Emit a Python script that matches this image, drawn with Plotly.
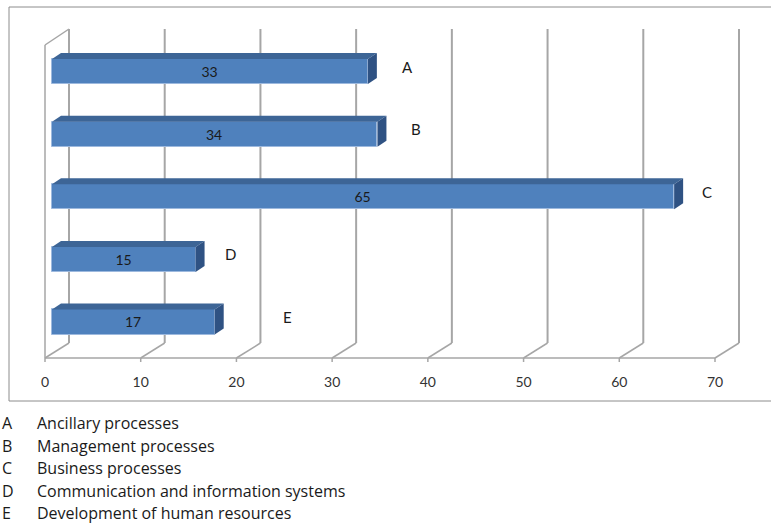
import plotly.graph_objects as go

# --- data -------------------------------------------------------------
codes = ["A", "B", "C", "D", "E"]
descriptions = [
    "Ancillary processes",
    "Management processes",
    "Business processes",
    "Communication and information systems",
    "Development of human resources",
]
values = [33, 34, 65, 15, 17]
x_ticks = [0, 10, 20, 30, 40, 50, 60, 70]

# --- geometry (pixels) ------------------------------------------------
W, H = 771, 525
PLOT_H = 366                 # bottom of the plotting area
FLOOR_PX = 358               # front edge of the floor
X0_PX = 45                   # pixel of value 0 on the front edge
PX_PER_UNIT = 670 / 70
ROW_PX = 62.6                # pixels between category rows
FIRST_ROW_PX = 322           # centre of the lowest bar face
DEPTH = (24, 15)             # oblique offset of the back wall
BAR_FRONT = 7                # bar face sits this far into the depth
BAR_DEPTH = (9, 6)           # visible depth of each bar
BAR_WIDTH = 0.4
BACK_TOP_PX = 29
WALL_TOP_PX = 45

Y_LOW = -(PLOT_H - FIRST_ROW_PX) / ROW_PX
Y_HIGH = Y_LOW + PLOT_H / ROW_PX
X_LOW = -X0_PX / PX_PER_UNIT
X_HIGH = X_LOW + W / PX_PER_UNIT


def ux(px):
    return px / PX_PER_UNIT


def uy(px):
    return px / ROW_PX


def row_y(py):
    return Y_LOW + (PLOT_H - py) / ROW_PX


def paper_x(px):
    return px / W


def paper_y(py):
    return (PLOT_H - py) / PLOT_H


FRONT = "#4F81BD"
TOP = "#3D6596"
SIDE = "#2F5283"
GRID = "#A6A6A6"
TEXT = "#1A1A1A"
FONT = "Lato"

ypos = [len(values) - 1 - i for i in range(len(values))]
base = ux(BAR_FRONT)

fig = go.Figure()
fig.add_trace(go.Bar(
    x=values, y=ypos, base=base, orientation="h", width=BAR_WIDTH,
    marker=dict(color=FRONT, line=dict(color="#9DB9DE", width=1)),
    text=[str(v) for v in values], textposition="inside",
    insidetextanchor="middle", constraintext="none",
    textfont=dict(family=FONT, size=14, color=TEXT),
    hoverinfo="skip", showlegend=False,
))

shapes = []
floor_y = row_y(FLOOR_PX)
back_floor_y = floor_y + uy(DEPTH[1])
back_top_y = row_y(BACK_TOP_PX)
wall_top_y = row_y(WALL_TOP_PX)
line_grid = dict(color=GRID, width=2)
line_floor = dict(color=GRID, width=1.5)

# back wall gridlines and floor depth lines
for t in x_ticks:
    shapes.append(dict(type="line", xref="x", yref="y", layer="below",
                       x0=t + ux(DEPTH[0]), x1=t + ux(DEPTH[0]),
                       y0=back_floor_y, y1=back_top_y, line=line_grid))
    shapes.append(dict(type="line", xref="x", yref="y", layer="below",
                       x0=t, x1=t + ux(DEPTH[0]),
                       y0=floor_y, y1=back_floor_y, line=line_floor))
    shapes.append(dict(type="line", xref="x", yref="y", layer="below",
                       x0=t, x1=t, y0=floor_y, y1=floor_y - uy(4),
                       line=line_floor))

# front floor edge and left wall
shapes.append(dict(type="line", xref="x", yref="y", layer="below",
                   x0=x_ticks[0], x1=x_ticks[-1], y0=floor_y, y1=floor_y,
                   line=line_floor))
shapes.append(dict(type="line", xref="x", yref="y", layer="below",
                   x0=0, x1=0, y0=floor_y, y1=wall_top_y, line=line_floor))
shapes.append(dict(type="line", xref="x", yref="y", layer="below",
                   x0=0, x1=ux(DEPTH[0]), y0=wall_top_y, y1=back_top_y,
                   line=line_floor))

# top and end faces of each bar
ddx, ddy = ux(BAR_DEPTH[0]), uy(BAR_DEPTH[1])
h = BAR_WIDTH / 2
for v, y in zip(values, ypos):
    x1 = base + v
    top = (f"M{base},{y + h} L{x1},{y + h} L{x1 + ddx},{y + h + ddy} "
           f"L{base + ddx},{y + h + ddy} Z")
    side = (f"M{x1},{y - h} L{x1},{y + h} L{x1 + ddx},{y + h + ddy} "
            f"L{x1 + ddx},{y - h + ddy} Z")
    shapes.append(dict(type="path", xref="x", yref="y", path=top,
                       fillcolor=TOP, line=dict(width=0), layer="above"))
    shapes.append(dict(type="path", xref="x", yref="y", path=side,
                       fillcolor=SIDE, line=dict(width=0), layer="above"))

# outer frame around the chart
shapes.append(dict(type="rect", xref="paper", yref="paper",
                   x0=paper_x(9), x1=paper_x(780),
                   y0=paper_y(401), y1=paper_y(7),
                   line=dict(color="#8C8C8C", width=1), layer="below"))

annotations = []
# category letters beside the bars
label_gap = [23, 23, 17, 18, 57]
for code, v, y, gap in zip(codes, values, ypos, label_gap):
    annotations.append(dict(
        x=base + v + ddx, y=y, xref="x", yref="y", text=code,
        showarrow=False, xanchor="left", yanchor="middle",
        xshift=gap, yshift=5,
        font=dict(family=FONT, size=15, color=TEXT)))

# key below the chart
key_rows = [423, 446, 468, 491, 513]
for code, desc, py in zip(codes, descriptions, key_rows):
    annotations.append(dict(
        x=paper_x(0), y=paper_y(py), xref="paper", yref="paper", text=code,
        showarrow=False, xanchor="left", yanchor="middle",
        font=dict(family="Open Sans", size=16, color=TEXT)))
    annotations.append(dict(
        x=paper_x(35), y=paper_y(py), xref="paper", yref="paper", text=desc,
        showarrow=False, xanchor="left", yanchor="middle",
        font=dict(family="Open Sans", size=16, color=TEXT)))

fig.update_layout(
    width=W, height=H,
    margin=dict(l=0, r=0, t=0, b=H - PLOT_H, pad=0),
    paper_bgcolor="white", plot_bgcolor="white",
    shapes=shapes, annotations=annotations,
    bargap=0,
    xaxis=dict(range=[X_LOW, X_HIGH], tickvals=x_ticks, ticks="",
               showgrid=False, zeroline=False, showline=False,
               tickfont=dict(family=FONT, size=14, color="#333333"),
               ticklabelstandoff=6),
    yaxis=dict(range=[Y_LOW, Y_HIGH], showticklabels=False, ticks="",
               showgrid=False, zeroline=False, showline=False),
)

fig.write_html("out.html")
